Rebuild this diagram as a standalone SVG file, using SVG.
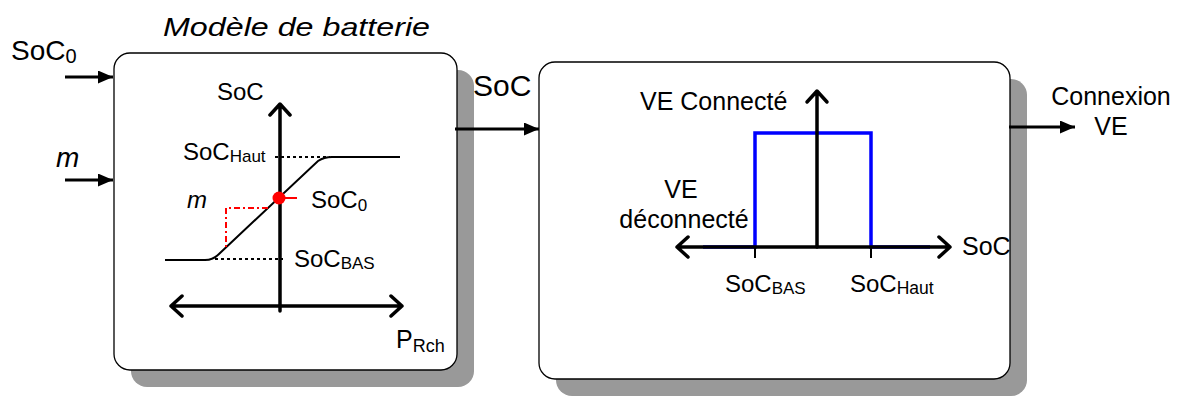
<svg xmlns="http://www.w3.org/2000/svg" width="1181" height="396" viewBox="0 0 1181 396">
<defs>
<style>
text{font-family:"Liberation Sans",Arial,sans-serif;fill:#000}
.t24{font-size:24px}
.sub{font-size:17px}
.box{fill:#fff;stroke:#000;stroke-width:1.3}
.shadow{fill:#999}
.conn{stroke:#000;stroke-width:3;fill:none}
.axis{stroke:#000;stroke-width:3.5;fill:none;stroke-linecap:round;stroke-linejoin:round}
.blue{stroke:#0000ff;stroke-width:3.5;fill:none}
.dot{stroke:#000;stroke-width:2;stroke-dasharray:3 3;fill:none}
</style>
<marker id="ah" viewBox="0 0 15 13" refX="15" refY="6.5" markerWidth="15" markerHeight="13" markerUnits="userSpaceOnUse" orient="auto">
<path d="M0,0 L15,6.5 L0,13 Z" fill="#000"/>
</marker>
</defs>
<rect width="1181" height="396" fill="#fff"/>

<text x="163" y="36" font-size="26" font-style="italic" textLength="267" lengthAdjust="spacingAndGlyphs">Modèle de batterie</text>

<g id="battery-model">
<rect class="shadow" x="131" y="70" width="343" height="317" rx="16"/>
<rect class="box" x="114" y="53" width="343" height="317" rx="16"/>
<path class="axis" d="M280,105 L280,311 M270,115 L280,104 L290,115"/>
<path class="axis" d="M171,306 L402,306 M182,296 L171,306 L182,316 M391,296 L402,306 L391,316"/>
<path d="M165,260 L205,260 Q213,260 219,254 L318,161 Q324,157 332,157 L400,157" stroke="#000" stroke-width="2" fill="none"/>
<line class="dot" x1="275" y1="157" x2="330" y2="157"/>
<line class="dot" x1="215" y1="259" x2="283" y2="259"/>
<path d="M268,208 L226,208 L226,249" stroke="#ff0000" stroke-width="2" fill="none" stroke-dasharray="6 3 2 3"/>
<line x1="279" y1="198" x2="297" y2="198" stroke="#ff0000" stroke-width="2"/>
<circle cx="279" cy="198" r="6.5" fill="#ff0000"/>
<text class="t24" x="217" y="100">SoC</text>
<text class="t24" x="183" y="160">SoC<tspan class="sub" dy="2">Haut</tspan></text>
<text class="t24" x="187" y="208" font-style="italic">m</text>
<text class="t24" x="311" y="208">SoC<tspan class="sub" dy="3">0</tspan></text>
<text class="t24" x="294" y="267">SoC<tspan class="sub" dy="2">BAS</tspan></text>
<text x="396" y="348" font-size="25">P<tspan font-size="18" dy="4">Rch</tspan></text>
</g>

<g id="connection-logic">
<rect class="shadow" x="556" y="79" width="471" height="317" rx="16"/>
<rect class="box" x="539" y="62" width="471" height="317" rx="16"/>
<path class="blue" d="M703,247 L755,247 L755,133 L871,133 L871,247 L930,247"/>
<path class="axis" d="M817,247 L817,92 M807,102 L817,91 L827,102"/>
<path class="axis" d="M677,247 L950,247 M688,237 L677,247 L688,257 M939,237 L950,247 L939,257"/>
<line x1="755" y1="247" x2="755" y2="258" stroke="#000" stroke-width="2"/>
<line x1="871" y1="247" x2="871" y2="258" stroke="#000" stroke-width="2"/>
<text x="640" y="110" font-size="25">VE Connecté</text>
<text x="681" y="198" font-size="25" text-anchor="middle">VE</text>
<text x="684" y="228" font-size="25" text-anchor="middle">déconnecté</text>
<text x="962" y="255" font-size="25">SoC</text>
<text class="t24" x="725" y="292">SoC<tspan class="sub" dy="2">BAS</tspan></text>
<text class="t24" x="850" y="292">SoC<tspan font-size="17.5" dy="2">Haut</tspan></text>
</g>

<g id="connectors">
<line class="conn" x1="65" y1="77" x2="113" y2="77" marker-end="url(#ah)"/>
<line class="conn" x1="65" y1="180" x2="113" y2="180" marker-end="url(#ah)"/>
<line class="conn" x1="455" y1="129" x2="539" y2="129" marker-end="url(#ah)"/>
<line class="conn" x1="1009" y1="127" x2="1075" y2="127" marker-end="url(#ah)"/>
</g>

<g id="labels">
<text x="11" y="60" font-size="28">SoC<tspan font-size="20" dy="3">0</tspan></text>
<text x="56" y="167" font-size="28" font-style="italic">m</text>
<text x="473" y="96" font-size="30">SoC</text>
<text x="1111" y="105" font-size="25" text-anchor="middle">Connexion</text>
<text x="1111" y="135" font-size="25" text-anchor="middle">VE</text>
</g>
</svg>
